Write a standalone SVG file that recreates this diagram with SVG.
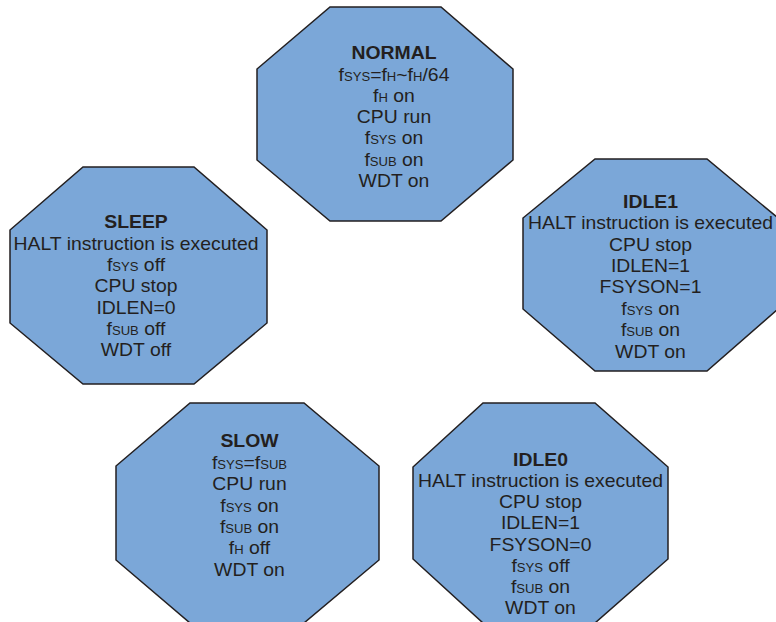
<svg xmlns="http://www.w3.org/2000/svg" width="776" height="622" viewBox="0 0 776 622">
<style>
.n{fill:#7ba7d8;stroke:#231f20;stroke-width:1.5;stroke-linejoin:miter}
.t{font-family:"Liberation Sans",Arial,sans-serif;font-size:17.8px;fill:#231f20;text-anchor:middle}
.b{font-weight:bold}
.s{font-size:12px}
</style>
<rect width="776" height="622" fill="#ffffff"/>
<g id="connectors"></g>

<g id="normal">
<polygon class="n" points="330,7 441,7 513,69 513,160 441,221 330,221 257,160 257,69"/>
<g transform="translate(394 0) scale(1.09 1)">
<text class="t b" x="0" y="59">NORMAL</text>
<text class="t" x="0" y="81">f<tspan class="s">SYS</tspan>=f<tspan class="s">H</tspan>~f<tspan class="s">H</tspan>/64</text>
<text class="t" x="0" y="102">f<tspan class="s">H</tspan> on</text>
<text class="t" x="0" y="123">CPU run</text>
<text class="t" x="0" y="144.5">f<tspan class="s">SYS</tspan> on</text>
<text class="t" x="0" y="166">f<tspan class="s">SUB</tspan> on</text>
<text class="t" x="0" y="187">WDT on</text>
</g>
</g>

<g id="sleep">
<polygon class="n" points="83,167 194,167 267,230 267,323 194,384 83,384 10,323 10,230"/>
<g transform="translate(136 0) scale(1.09 1)">
<text class="t b" x="0" y="228">SLEEP</text>
<text class="t" x="0" y="250">HALT instruction is executed</text>
<text class="t" x="0" y="271">f<tspan class="s">SYS</tspan> off</text>
<text class="t" x="0" y="292">CPU stop</text>
<text class="t" x="0" y="314">IDLEN=0</text>
<text class="t" x="0" y="335">f<tspan class="s">SUB</tspan> off</text>
<text class="t" x="0" y="356">WDT off</text>
</g>
</g>

<g id="idle1">
<polygon class="n" points="595,159 707,159 778,218 778,309 707,371 595,371 523,309 523,218"/>
<g transform="translate(650.5 0) scale(1.09 1)">
<text class="t b" x="0" y="208">IDLE1</text>
<text class="t" x="0" y="229.5">HALT instruction is executed</text>
<text class="t" x="0" y="251">CPU stop</text>
<text class="t" x="0" y="272">IDLEN=1</text>
<text class="t" x="0" y="293.5">FSYSON=1</text>
<text class="t" x="0" y="315">f<tspan class="s">SYS</tspan> on</text>
<text class="t" x="0" y="336">f<tspan class="s">SUB</tspan> on</text>
<text class="t" x="0" y="358">WDT on</text>
</g>
</g>

<g id="slow">
<polygon class="n" points="190,403 304,403 379,466 379,560 304,623 190,623 116,560 116,466"/>
<g transform="translate(249.5 0) scale(1.09 1)">
<text class="t b" x="0" y="447.5">SLOW</text>
<text class="t" x="0" y="469">f<tspan class="s">SYS</tspan>=f<tspan class="s">SUB</tspan></text>
<text class="t" x="0" y="490.5">CPU run</text>
<text class="t" x="0" y="512">f<tspan class="s">SYS</tspan> on</text>
<text class="t" x="0" y="533">f<tspan class="s">SUB</tspan> on</text>
<text class="t" x="0" y="554.5">f<tspan class="s">H</tspan> off</text>
<text class="t" x="0" y="576">WDT on</text>
</g>
</g>

<g id="idle0">
<polygon class="n" points="483,403 595,403 668,467 668,559 595,623 483,623 413,559 413,467"/>
<g transform="translate(540.5 0) scale(1.09 1)">
<text class="t b" x="0" y="466">IDLE0</text>
<text class="t" x="0" y="487">HALT instruction is executed</text>
<text class="t" x="0" y="508.5">CPU stop</text>
<text class="t" x="0" y="529.5">IDLEN=1</text>
<text class="t" x="0" y="551">FSYSON=0</text>
<text class="t" x="0" y="572">f<tspan class="s">SYS</tspan> off</text>
<text class="t" x="0" y="593">f<tspan class="s">SUB</tspan> on</text>
<text class="t" x="0" y="614">WDT on</text>
</g>
</g>
</svg>
